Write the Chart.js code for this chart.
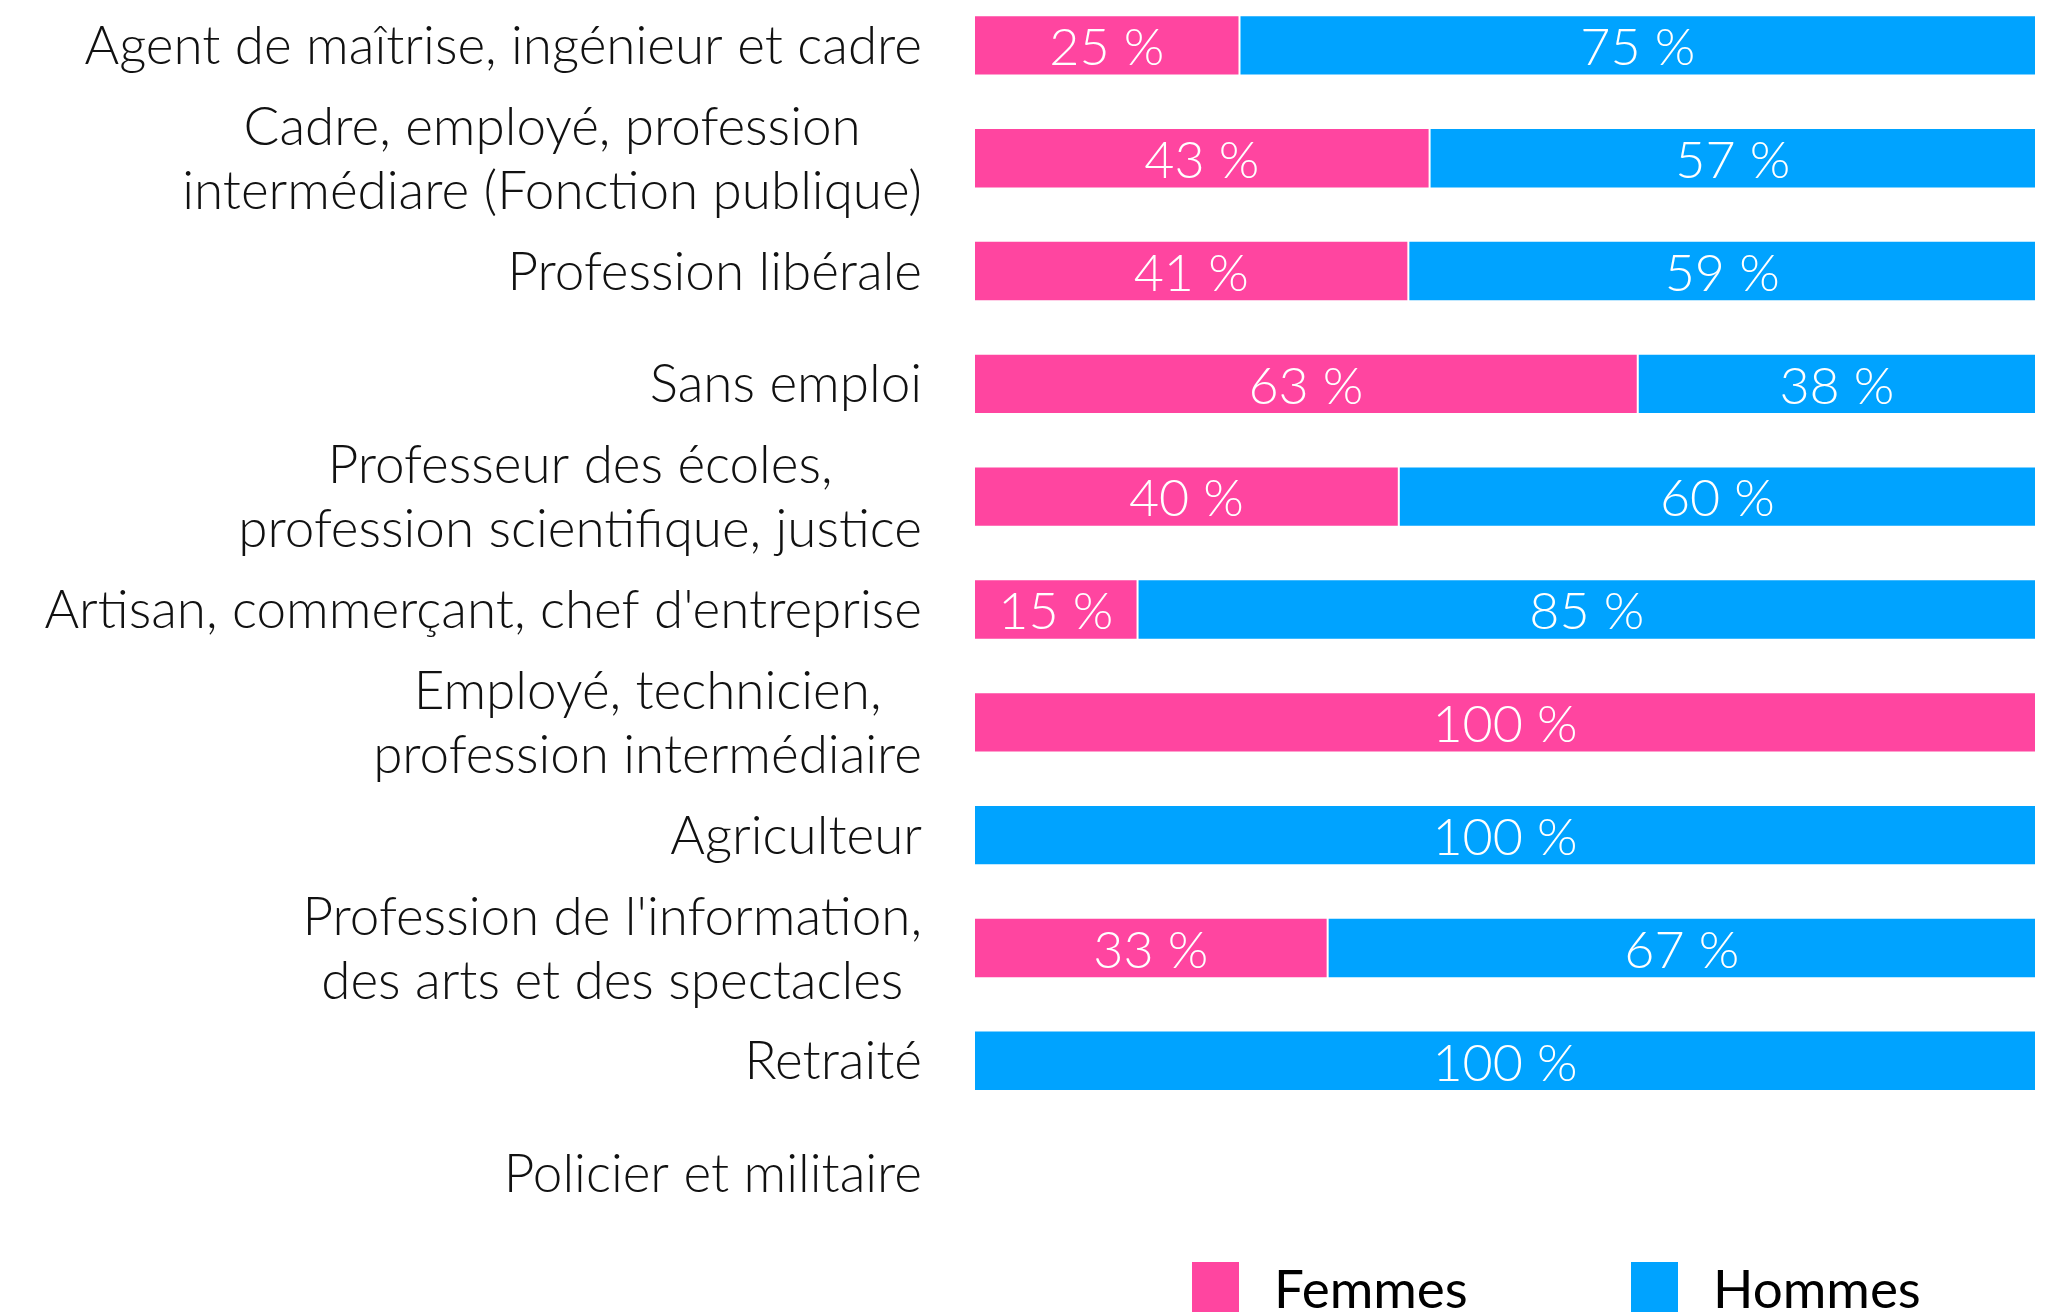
<!DOCTYPE html>
<html lang="fr">
<head>
<meta charset="utf-8">
<title>Répartition femmes / hommes par profession</title>
<script src="https://cdn.jsdelivr.net/npm/chart.js@4.4.1/dist/chart.umd.min.js"></script>
<style>
  html, body { margin: 0; padding: 0; background: #fff; overflow: hidden; }
  #wrap { position: absolute; left: 0; top: -11px; width: 2049px; height: 1323px; }
</style>
</head>
<body>
<div id="wrap"><canvas id="chart"></canvas></div>
<script>
// categories, top to bottom (multi-line labels as arrays)
const categories = [
  'Agent de maîtrise, ingénieur et cadre',
  ['Cadre, employé, profession', 'intermédiare (Fonction publique)'],
  'Profession libérale',
  'Sans emploi',
  ['Professeur des écoles,', 'profession scientifique, justice'],
  "Artisan, commerçant, chef d'entreprise",
  ['Employé, technicien,', 'profession intermédiaire'],
  'Agriculteur',
  ["Profession de l'information,", 'des arts et des spectacles'],
  'Retraité',
  'Policier et militaire'
];
// shares in %, labels are rounded
const femmes = [25, 42.9, 40.9, 62.5, 40, 15.4, 100, 0, 33.3, 0, null];
const hommes = [75, 57.1, 59.1, 37.5, 60, 84.6, 0, 100, 66.7, 100, null];
const seriesNames = ['Femmes', 'Hommes'];
const seriesColors = ['#ff45a0', '#00a3ff'];

const labelFont = '300 53px Lato';
const valueFont = '300 52px Lato';
const labelLineHeight = 64;

// right-aligned block, lines centred on each other
const categoryLabels = {
  id: 'categoryLabels',
  afterDraw(chart) {
    const { ctx, scales: { y } } = chart;
    ctx.save();
    ctx.font = labelFont;
    ctx.fillStyle = '#111';
    ctx.textAlign = 'center';
    ctx.textBaseline = 'middle';
    const right = y.right - 52;
    categories.forEach((label, i) => {
      const lines = Array.isArray(label) ? label : [label];
      const w = Math.max(...lines.map(l => ctx.measureText(l).width));
      const cx = right - w / 2;
      const yc = y.getPixelForTick(i) + 1.5;
      lines.forEach((l, k) => {
        ctx.fillText(l, cx, yc + (k - (lines.length - 1) / 2) * labelLineHeight);
      });
    });
    ctx.restore();
  }
};

const valueLabels = {
  id: 'valueLabels',
  afterDatasetsDraw(chart) {
    const { ctx } = chart;
    ctx.save();
    ctx.font = valueFont;
    ctx.fillStyle = '#fff';
    ctx.textAlign = 'center';
    ctx.textBaseline = 'middle';
    chart.data.datasets.forEach((ds, di) => {
      chart.getDatasetMeta(di).data.forEach((bar, i) => {
        const v = ds.data[i];
        if (!v) return;
        const { x, y, base } = bar.getProps(['x', 'y', 'base'], true);
        ctx.fillText(Math.round(v) + ' %', (x + base) / 2, y + 3);
      });
    });
    ctx.restore();
  }
};

const legendBoxes = {
  id: 'legendBoxes',
  afterDraw(chart) {
    const { ctx, chartArea } = chart;
    const starts = [218, 657];
    const top = chartArea.bottom + 32;
    ctx.save();
    ctx.font = '400 53px Lato';
    ctx.textBaseline = 'top';
    chart.data.datasets.forEach((ds, i) => {
      const x = chartArea.left + starts[i];
      ctx.fillStyle = ds.backgroundColor;
      ctx.fillRect(x, top, 47, 60);
      ctx.fillStyle = '#000';
      ctx.fillText(ds.label, x + 82, top + 2);
    });
    ctx.restore();
  }
};

new Chart(document.getElementById('chart'), {
  type: 'bar',
  data: {
    labels: categories,
    datasets: [
      { label: seriesNames[0], data: femmes, backgroundColor: seriesColors[0] },
      { label: seriesNames[1], data: hommes, backgroundColor: seriesColors[1] }
    ].map(d => Object.assign(d, {
      borderColor: '#fff', borderWidth: 1, borderSkipped: false,
      barPercentage: 0.535, categoryPercentage: 1
    }))
  },
  options: {
    indexAxis: 'y',
    responsive: true,
    maintainAspectRatio: false,
    animation: false,
    layout: { padding: { left: 0, right: 13, top: 0, bottom: 82 } },
    scales: {
      x: { stacked: true, min: 0, max: 100, display: false },
      y: {
        stacked: true,
        grid: { display: false },
        border: { display: false },
        ticks: { display: false },
        afterFit: (scale) => { scale.width = 974; }
      }
    },
    plugins: { legend: { display: false }, tooltip: { enabled: false } }
  },
  plugins: [categoryLabels, valueLabels, legendBoxes]
});
</script>
</body>
</html>
